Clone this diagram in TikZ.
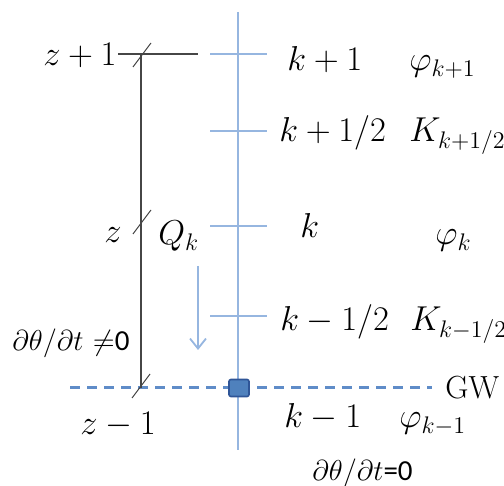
\documentclass[tikz,border=0pt]{standalone}
\usepackage{fontspec}
\newfontfamily\carlito{Carlito}
\usetikzlibrary{arrows.meta}
\DeclareMathSizes{16}{16}{12.2}{9}
\definecolor{axisblue}{RGB}{150,182,224}
\definecolor{dashblue}{RGB}{95,140,200}
\definecolor{sqfill}{RGB}{79,129,189}
\definecolor{sqdraw}{RGB}{47,85,151}
\definecolor{dark}{RGB}{70,70,70}
\tikzset{
  lbl/.style={inner sep=0pt, font=\fontsize{16}{19}\selectfont},
  small/.style={inner sep=0pt, font=\fontsize{14.5}{17}\selectfont},
  axis/.style={draw=axisblue, line width=1.1pt},
  tick/.style={draw=axisblue, line width=0.9pt},
  ruler/.style={draw=dark, line width=0.7pt},
  slash/.style={draw=dark, line width=0.5pt},
  gwline/.style={draw=dashblue, line width=1.5pt, dash pattern=on 5pt off 3.5pt},
  flowarrow/.style={draw=axisblue, line width=0.9pt, -{Straight Barb[length=5pt,width=8pt]}},
  gwbox/.style={draw=sqdraw, fill=sqfill, line width=0.8pt, rounded corners=1pt, minimum width=10pt, minimum height=8.5pt, inner sep=0pt}
}
\begin{document}
\begin{tikzpicture}[x=0.5pt,y=-0.5pt]
\useasboundingbox (0,0) rectangle (504,486);
% blue axis
\coordinate (atop) at (238,12);
\coordinate (abot) at (238,450);
\draw[axis] (atop) -- (abot);
% ticks
\foreach \n/\y in {t1/54,t2/131,t3/226,t4/316}{
  \coordinate (\n l) at (210,\y);
  \coordinate (\n r) at (267,\y);
  \draw[tick] (\n l) -- (\n r);
}
% GW dashed line
\coordinate (gwl) at (70,388);
\coordinate (gwr) at (432,388);
\draw[gwline] (gwl) -- (gwr);
\node[gwbox] (sq) at (239,388) {};
% black ruler
\coordinate (rh1) at (118,54);
\coordinate (rh2) at (198,54);
\coordinate (rtop) at (141,54);
\coordinate (rbot) at (141,388);
\draw[ruler] (rh1) -- (rh2);
\draw[ruler] (rtop) -- (rbot);
% slashes
\foreach \n/\x/\y in {s1/142/55,s2/142/222,s3/141/386}{
  \coordinate (\n a) at ({\x-9},{\y+12});
  \coordinate (\n b) at ({\x+9},{\y-12});
  \draw[slash] (\n a) -- (\n b);
}
% flow arrow
\coordinate (fa) at (198,266);
\coordinate (fb) at (198,350);
\draw[flowarrow] (fa) -- (fb);
% labels
\node[lbl, anchor=base east] (zp1) at (117,66) {$z+1$};
\node[lbl, anchor=base west] (kp1) at (287,71) {$k+1$};
\node[lbl, anchor=base west] (phip1) at (409,71) {$\varphi_{k+1}$};
\node[lbl, anchor=base west] (kph) at (279,142) {$k+1/2$};
\node[lbl, anchor=base west] (Kph) at (409,142) {$K_{k+1/2}$};
\node[lbl, anchor=base west] (k0) at (300,238) {$k$};
\node[lbl, anchor=base west] (phi0) at (435,245) {$\varphi_{k}$};
\node[lbl, anchor=base east] (z0) at (122,243) {$z$};
\node[lbl, anchor=base west] (Qk) at (158,245) {$Q_k$};
\node[lbl, anchor=base west] (kmh) at (280,331) {$k-1/2$};
\node[lbl, anchor=base west] (Kmh) at (410,331) {$K_{k-1/2}$};
\node[small, anchor=west] (dtn) at (12,343) {$\partial\theta/\partial t$ $\neq${\carlito 0}};
\node[lbl, anchor=west] (gw) at (445,388) {GW};
\node[lbl, anchor=base west] (km1) at (284,428) {$k-1$};
\node[lbl, anchor=base west] (phim1) at (399,428) {$\varphi_{k-1}$};
\node[lbl, anchor=base west] (zm1) at (80,435) {$z-1$};
\node[small, anchor=west] (dt0) at (312,473) {$\partial\theta/\partial t${\carlito =0}};
\end{tikzpicture}
\end{document}
